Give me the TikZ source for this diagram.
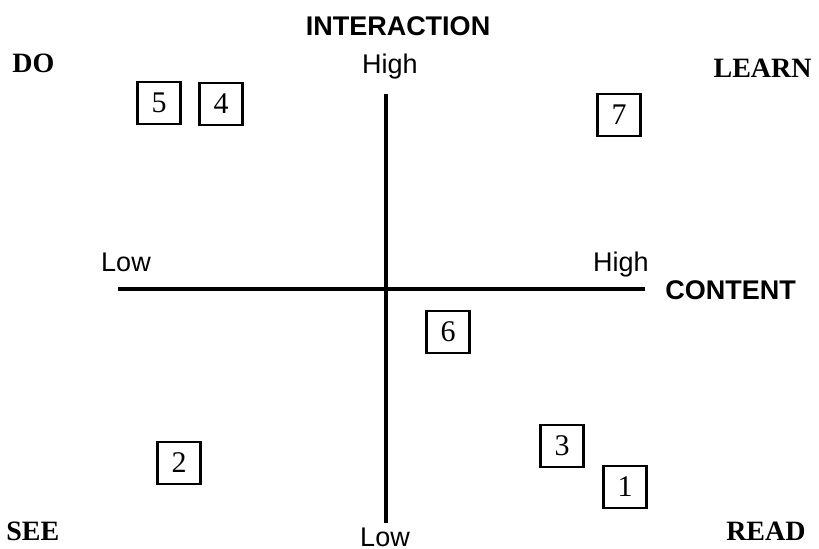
\documentclass[tikz,border=0pt]{standalone}
\usepackage{fontspec}
\setmainfont{Liberation Serif}
\setsansfont{Liberation Sans}
\usepackage{tikz}
\usetikzlibrary{positioning}
\tikzset{
  % Numbered boxes
  item/.style={
    rectangle, draw=black, line width=1.2pt, minimum width=21.5pt,
    minimum height=21pt, inner sep=0pt, font=\fontsize{15}{15}\selectfont
  },
  % Axis lines
  axis/.style={line width=1.6pt, color=black},
  % Labels
  axislabel/.style={font=\sffamily\fontsize{13.5}{14}\selectfont, inner sep=0pt},
  axistitle/.style={font=\sffamily\bfseries\fontsize{13.5}{14}\selectfont, inner sep=0pt},
  corner/.style={font=\bfseries\fontsize{14}{14}\selectfont, inner sep=0pt},
}
\begin{document}
\begin{tikzpicture}[x=0.5pt, y=-0.5pt]
  \useasboundingbox (0,0) rectangle (819,549);

  % axes
  \coordinate (ctop) at (386,94);
  \coordinate (cbot) at (386,523);
  \coordinate (cleft) at (118,289);
  \coordinate (cright) at (645,289);
  \draw[axis] (ctop) -- (cbot);
  \draw[axis] (cleft) -- (cright);

  % axis titles and ends
  \node[axistitle, anchor=base] (interaction) at (398,36) {INTERACTION};
  \node[axistitle, anchor=base west] (content) at (665,300) {CONTENT};
  \node[axislabel, anchor=base] (yhigh) at (390,74) {High};
  \node[axislabel, anchor=base] (ylow) at (385,546) {Low};
  \node[axislabel, anchor=base] (xlow) at (126,272) {Low};
  \node[axislabel, anchor=base] (xhigh) at (621,272) {High};

  % quadrants
  \node[corner, anchor=base west] (do) at (12,73) {DO};
  \node[corner, anchor=base east] (learn) at (812,78) {LEARN};
  \node[corner, anchor=base west] (see) at (6,541) {SEE};
  \node[corner, anchor=base east] (read) at (806,541) {READ};

  % numbered items
  \node[item] (b5) at (159,103) {5};
  \node[item] (b4) at (221,104) {4};
  \node[item] (b7) at (619,115) {7};
  \node[item] (b6) at (448,332) {6};
  \node[item] (b2) at (179,463) {2};
  \node[item] (b3) at (562,446) {3};
  \node[item] (b1) at (625,487) {1};

\end{tikzpicture}
\end{document}
